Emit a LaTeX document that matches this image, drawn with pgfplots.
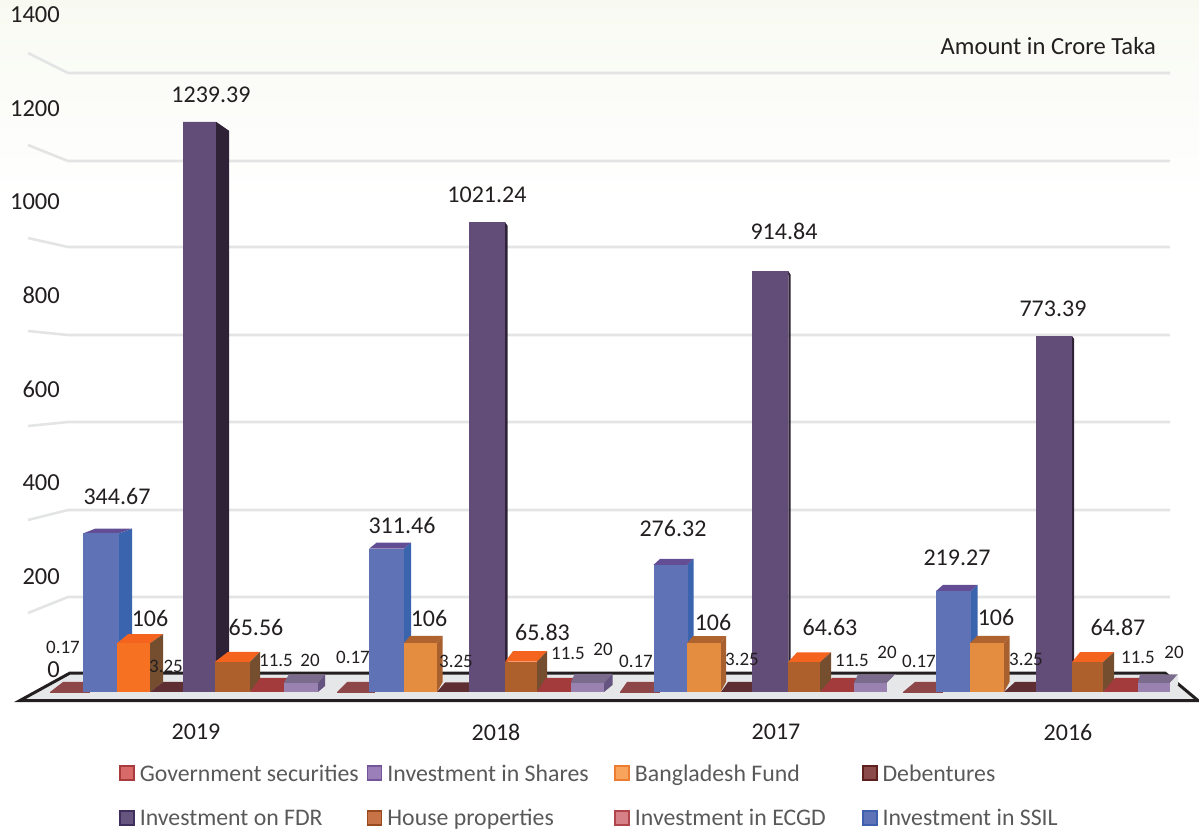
\documentclass[border=0pt]{standalone}
\usepackage{fontspec}
\setmainfont{Carlito}
\usepackage{pgfplots}
\pgfplotsset{compat=1.18}
% colours
\definecolor{gridc}{HTML}{E3E4E4}
\definecolor{floorc}{HTML}{E6E7E8}
\definecolor{edgec}{HTML}{231F20}
\definecolor{txt}{HTML}{231F20}
\definecolor{legtxt}{HTML}{595959}
\definecolor{bgtop}{HTML}{F8FAF2}
\definecolor{govT}{HTML}{8E4748}
\definecolor{debT}{HTML}{5F2E33}
\definecolor{ecgT}{HTML}{A33A3C}
\definecolor{ssF}{HTML}{5E72B5}\definecolor{ssS}{HTML}{3B64AE}\definecolor{ssT}{HTML}{634E96}
\definecolor{bfF}{HTML}{F67222}\definecolor{brS}{HTML}{744E2F}\definecolor{orT}{HTML}{F4641F}
\definecolor{bgF}{HTML}{E48D40}\definecolor{bgS}{HTML}{A8602F}\definecolor{bgT}{HTML}{AF632F}
\definecolor{fdF}{HTML}{624C78}\definecolor{fdS}{HTML}{2F2236}
\definecolor{hoF}{HTML}{AD5F2C}
\definecolor{shF}{HTML}{9981B0}\definecolor{shS}{HTML}{665480}\definecolor{shT}{HTML}{7B6C8E}
\definecolor{lgAf}{HTML}{D96A6A}\definecolor{lgAd}{HTML}{A83C3C}
\definecolor{lgBf}{HTML}{9B7FB8}\definecolor{lgBd}{HTML}{74559A}
\definecolor{lgCf}{HTML}{F9A45C}\definecolor{lgCd}{HTML}{ED7D31}
\definecolor{lgDf}{HTML}{8B4A4A}\definecolor{lgDd}{HTML}{5E1F1F}
\definecolor{lgEf}{HTML}{66557F}\definecolor{lgEd}{HTML}{3F2F5F}
\definecolor{lgFf}{HTML}{C87347}\definecolor{lgFd}{HTML}{974A1D}
\definecolor{lgGf}{HTML}{D68087}\definecolor{lgGd}{HTML}{B2444B}
\definecolor{lgHf}{HTML}{5F74B8}\definecolor{lgHd}{HTML}{3F60AE}
\pgfplotsset{
  base/.style={scale only axis,width=1199pt,height=833pt,at={(0,0)},anchor=south west,
    xmin=0,xmax=1199,clip=false},
  bare/.style={base,hide axis,ymin=0,ymax=833,y dir=reverse},
}
% one 3D bar: x0 x1 dxL dxR dy(px) base(px) value; colours set by \cols
\newcommand\cols[3]{\def\cF{#1}\def\cS{#2}\def\cT{#3}}
\newcommand\tdbar[7]{%
  \pgfmathsetmacro\xa{#1+#3}\pgfmathsetmacro\xb{#2+#4}%
  \pgfmathsetmacro\ya{#7+#5/0.46}\pgfmathsetmacro\yb{#6/0.46}%
  \pgfmathsetmacro\xc{(#1+#2)/2}\pgfmathsetmacro\ww{#2-#1}%
  \edef\cmd{%
    \noexpand\addplot[fill=\cT,draw=none] coordinates {(#1,#7)(#2,#7)(\xb,\ya)(\xa,\ya)} --cycle;
    \noexpand\addplot[fill=\cS,draw=none] coordinates {(#2,0)(#2,#7)(\xb,\ya)(\xb,\yb)} --cycle;
    \noexpand\addplot[ybar,bar width=\ww pt,bar shift=0pt,fill=\cF,draw=none] coordinates {(\xc,#7)};
  }\cmd}
% a nearly flat bar: x0 x1 dxL dxR height(px) value colour
\newcommand\flatbar[7]{%
  \pgfmathsetmacro\xa{#1+#3}\pgfmathsetmacro\xb{#2+#4}%
  \pgfmathsetmacro\ya{#5/0.46}%
  \pgfmathsetmacro\xs{#1+#3*#6/\ya}%
  \pgfmathsetmacro\xc{(\xs+#2)/2}\pgfmathsetmacro\ww{#2-\xs}%
  \edef\cmd{%
    \noexpand\addplot[fill=#7,draw=none] coordinates {(#1,0)(#2,0)(\xb,\ya)(\xa,\ya)} --cycle;
    \noexpand\addplot[ybar,bar width=\ww pt,bar shift=0pt,fill=#7,draw=none] coordinates {(\xc,#6)};
  }\cmd}
\newcommand\biglab[3]{\node[anchor=center,inner sep=0,text=txt,font=\fontsize{24}{26}\selectfont] at (axis cs:#1,#2) {#3};}
\newcommand\smal[3]{\node[anchor=center,inner sep=0,text=txt,font=\fontsize{19}{22}\selectfont] at (axis cs:#1,#2) {#3};}
\newcommand\leg[3]{\addlegendimage{legend image code/.code={\draw[draw=#2,fill=#1,line width=1.6pt] (0pt,-6.5pt) rectangle (14pt,7.5pt);}}\addlegendentry{\hspace*{5pt}\makebox[221pt][l]{#3}}}
\begin{document}
\begin{tikzpicture}
\path[use as bounding box] (0,0) rectangle (1199pt,833pt);
\shade[top color=bgtop,bottom color=white] (0,633pt) rectangle (1199pt,833pt);
% walls and floor
\begin{axis}[bare]
\addplot[gridc,line width=2.6pt] coordinates {(28,53)(68,73)(1170,73)};
\addplot[gridc,line width=2.6pt] coordinates {(28,145)(68,161)(1170,161)};
\addplot[gridc,line width=2.6pt] coordinates {(28,238)(68,247)(1170,247)};
\addplot[gridc,line width=2.6pt] coordinates {(28,331)(68,335)(1170,335)};
\addplot[gridc,line width=2.6pt] coordinates {(28,426)(68,422)(1170,422)};
\addplot[gridc,line width=2.6pt] coordinates {(28,520)(68,510)(1170,510)};
\addplot[gridc,line width=2.6pt] coordinates {(28,613)(68,597)(1170,597)};
\addplot[fill=floorc,draw=none] coordinates {(70,673)(1165,673)(1198,700.5)(20,700.5)} --cycle;
\addplot[edgec,line width=3pt] coordinates {(20,700.5)(70,673)(1165,673)(1198,700.5)} --cycle;
\end{axis}
% tick labels
\begin{axis}[base,ymin=-350.5,ymax=1429.9,
  axis line style={draw=none},tick style={draw=none},
  ytick={0,200,...,1400},xtick={196,496,776,1068},xticklabels={2019,2018,2017,2016},
  /pgf/number format/assume math mode=true,
  /pgf/number format/set thousands separator={},
  tick label style={text=txt,font=\fontsize{24.5}{26}\selectfont},
  yticklabel style={anchor=east,xshift=60pt,yshift=-1pt,inner sep=0},
  xticklabel style={anchor=center,inner sep=0,yshift=101pt,font=\fontsize{24}{26}\selectfont},
]
\addplot[draw=none] coordinates {(0,0)};
\end{axis}
% the bars, in real values (0.46 px per crore)
\begin{axis}[base,hide axis,ymin=-306.52,ymax=1504.35]
% Government securities
\flatbar{50}{90}{13}{0}{10}{0.17}{govT}
\flatbar{337}{375}{10}{0}{10}{0.17}{govT}
\flatbar{620}{660}{7}{0}{10}{0.17}{govT}
\flatbar{903}{943}{12}{0}{10}{0.17}{govT}
% Investment in SSIL
\cols{ssF}{ssS}{ssT}
\tdbar{83}{119}{12}{13}{4.7}{10}{344.67}
\tdbar{369}{404}{7.5}{7}{6}{10}{311.46}
\tdbar{653.5}{687.5}{6.5}{6}{6}{10}{276.32}
\tdbar{936}{971}{7}{6.7}{6.3}{10}{219.27}
% Bangladesh Fund
\cols{bfF}{brS}{orT}
\tdbar{117}{150}{11}{13}{9}{10}{106}
\cols{bgF}{bgS}{bgT}
\tdbar{404}{437}{6}{5.7}{7.3}{10}{106}
\tdbar{687}{720.5}{6}{5.5}{7}{10}{106}
\tdbar{970}{1004}{7}{5.5}{7.3}{10}{106}
% Debentures
\flatbar{150}{190}{13}{0}{10}{3.25}{debT}
\flatbar{437}{475}{8}{0}{9.5}{3.25}{debT}
\flatbar{721}{760}{7}{0}{10}{3.25}{debT}
\flatbar{1004}{1044}{11}{0}{10}{3.25}{debT}
% Investment on FDR
\cols{fdF}{fdS}{fdF}
\tdbar{183}{216}{13}{13}{-9}{10}{1239.39}
\tdbar{469}{505}{2.5}{2.7}{-4}{10}{1021.24}
\tdbar{752}{788.3}{2.4}{2.4}{-4}{10}{914.84}
\tdbar{1036}{1072}{2.2}{2.2}{-3}{10}{773.39}
% House properties
\cols{hoF}{brS}{orT}
\tdbar{215}{250}{13}{10}{10}{11}{65.56}
\tdbar{505}{537}{8}{10}{10.5}{11}{65.83}
\tdbar{788}{820}{9}{11}{10}{11}{64.63}
\tdbar{1072}{1103}{8}{11}{10}{11}{64.87}
% Investment in ECGD
\flatbar{250}{285}{10}{3}{14}{11.5}{ecgT}
\flatbar{537}{572}{9}{1}{14}{11.5}{ecgT}
\flatbar{820}{855}{12}{3}{14}{11.5}{ecgT}
\flatbar{1103}{1139}{12}{1}{14}{11.5}{ecgT}
% Investment in Shares
\cols{shF}{shS}{shT}
\tdbar{284}{318}{5}{7}{8.5}{6}{20}
\tdbar{571}{604}{3.5}{8.5}{9}{7}{20}
\cols{shF}{floorc}{shT}
\tdbar{854}{887}{4}{8.7}{8.5}{7}{20}
\tdbar{1138}{1170}{2}{8}{8.5}{7}{20}
\end{axis}
% data labels, title and legend
\begin{axis}[bare,
  legend columns=4,
  legend style={at={(119/1199,1-764.5/833)},anchor=north west,draw=none,fill=none,inner sep=0,
    /tikz/every even column/.append style={column sep=6pt},
    row sep=26.5pt,text=legtxt,
    nodes={inner sep=0,font=\fontsize{23.8}{26}\selectfont}},
]
\biglab{117}{496}{344.67}\biglab{150}{618}{106}\biglab{211}{95}{1239.39}\biglab{256}{627}{65.56}
\smal{63}{647}{0.17}\smal{166}{666}{3.25}\smal{276}{660}{11.5}\smal{310}{660}{20}
\biglab{402}{525}{311.46}\biglab{429}{618}{106}\biglab{487}{195}{1021.24}\biglab{542.5}{632}{65.83}
\smal{353}{657}{0.17}\smal{456}{661}{3.25}\smal{568}{653}{11.5}\smal{603}{649}{20}
\biglab{673}{528}{276.32}\biglab{713}{622}{106}\biglab{784}{231}{914.84}\biglab{830}{627}{64.63}
\smal{636}{661}{0.17}\smal{742}{659}{3.25}\smal{852}{660}{11.5}\smal{887}{652}{20}
\biglab{957}{558}{219.27}\biglab{996}{617}{106}\biglab{1053}{309}{773.39}\biglab{1118}{627}{64.87}
\smal{919}{661}{0.17}\smal{1026}{659}{3.25}\smal{1138}{657}{11.5}\smal{1174}{652}{20}
\node[anchor=east,inner sep=0,text=txt,font=\fontsize{24.6}{26}\selectfont] at (axis cs:1156,46) {Amount in Crore Taka};
\leg{lgAf}{lgAd}{Government securities}
\leg{lgBf}{lgBd}{Investment in Shares}
\leg{lgCf}{lgCd}{Bangladesh Fund}
\leg{lgDf}{lgDd}{Debentures}
\leg{lgEf}{lgEd}{Investment on FDR}
\leg{lgFf}{lgFd}{House properties}
\leg{lgGf}{lgGd}{Investment in ECGD}
\leg{lgHf}{lgHd}{Investment in SSIL}
\end{axis}
\end{tikzpicture}
\end{document}
